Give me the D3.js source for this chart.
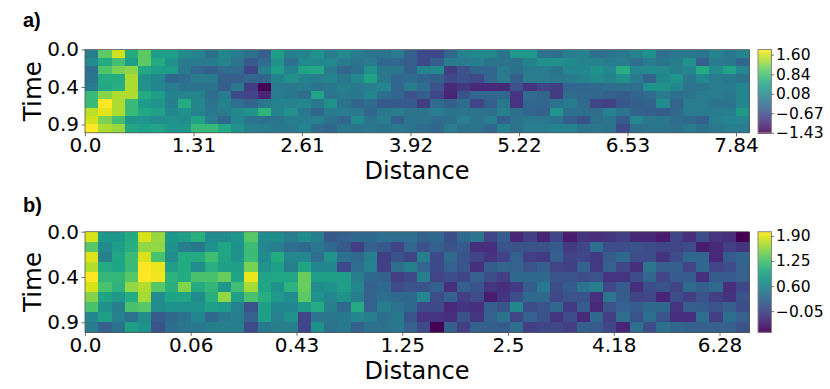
<!DOCTYPE html>
<html>
<head>
<meta charset="utf-8">
<script src="https://cdn.jsdelivr.net/npm/d3@7"></script>
<style>
  html, body { margin: 0; padding: 0; background: #fff; }
  text { font-family: "DejaVu Sans", sans-serif; fill: #000; }
</style>
</head>
<body>
<svg id="chart" width="830" height="389"></svg>
<script>
// panel a, 10 time rows x 50 distance columns
const heatA = [
  [-0.08,1.00,1.55,0.55,1.00,0.35,0.40,0.10,0.02,-0.25,0.08,-0.08,-0.22,-0.46,0.35,-0.05,0.02,0.24,-0.08,0.10,-0.08,-0.20,-0.20,-0.08,-0.46,-0.72,-0.72,-0.36,0.02,0.08,0.08,-0.20,0.28,0.28,-0.20,-0.28,-0.05,0.02,-0.28,-0.20,-0.14,0.02,0.19,-0.28,-0.14,-0.14,-0.20,0.02,-0.14,0.02],
  [0.10,0.55,0.83,0.35,1.00,0.55,0.19,-0.08,-0.08,-0.08,0.02,-0.20,-0.53,-0.30,0.19,-0.28,0.08,0.08,0.08,-0.08,-0.20,-0.08,-0.36,-0.36,-0.46,-0.72,-0.46,-0.08,-0.08,-0.05,-0.20,-0.20,-0.20,0.02,0.19,0.19,0.12,0.02,0.02,-0.08,-0.08,-0.28,-0.08,-0.20,-0.05,0.19,-0.46,-0.08,-0.14,-0.36],
  [-0.28,0.90,1.15,1.25,0.51,0.35,0.35,-0.14,-0.36,-0.46,-0.30,-0.30,-0.78,-0.05,0.35,0.02,0.44,0.51,-0.08,-0.36,-0.25,0.19,-0.14,-0.14,-0.46,0.02,0.08,-0.85,-0.62,-0.36,-0.36,-0.08,-0.25,-0.08,-0.08,-0.20,0.05,0.05,0.24,0.05,0.60,0.05,0.10,0.10,-0.05,0.05,0.55,0.10,0.45,0.05],
  [-0.20,0.55,0.55,1.40,0.19,0.08,-0.36,-0.30,-0.08,-0.08,-0.46,-0.46,-0.36,-0.40,0.02,0.19,0.02,-0.08,0.02,-0.14,0.08,0.44,-0.14,-0.36,-0.30,-0.36,-0.46,-0.72,-0.62,-0.72,-0.36,-0.08,-0.46,-0.08,-0.08,-0.14,-0.08,0.02,0.10,0.02,0.19,-0.08,-0.40,0.08,0.24,-0.14,0.08,-0.08,-0.14,-0.20],
  [-0.08,0.50,0.60,1.40,0.19,0.08,-0.08,-0.20,-0.20,-0.20,-0.46,-0.14,-0.85,-1.43,-0.08,-0.14,-0.08,-0.20,-0.14,-0.05,-0.14,-0.05,0.05,-0.40,-0.08,-0.28,-0.62,-1.05,-0.90,-1.05,-1.05,-1.05,-0.62,-0.95,-0.78,-0.85,-0.36,-0.36,-0.35,-0.30,-0.25,-0.25,0.20,0.20,0.05,-0.20,-0.20,-0.10,-0.10,0.05],
  [0.75,1.20,1.40,1.40,0.55,0.35,0.02,0.02,0.02,-0.30,-0.08,-0.72,-0.78,-1.10,-0.08,-0.14,-0.28,0.44,-0.20,-0.08,-0.14,0.08,-0.28,-0.36,-0.62,-0.46,-0.75,-1.10,-0.60,-0.36,-0.36,-0.36,-0.95,-0.30,-0.40,-0.85,-0.30,-0.35,-0.35,-0.45,-0.50,-0.40,-0.30,-0.10,-0.25,-0.20,-0.10,-0.10,-0.15,0.05],
  [0.75,1.80,1.40,0.75,0.35,0.25,-0.05,0.55,0.08,-0.20,0.02,-0.28,-0.40,-0.14,0.02,0.02,0.08,-0.14,0.19,-0.20,-0.36,-0.30,-0.53,-0.53,-0.53,-0.85,-0.30,-0.46,-0.30,-0.78,-0.46,-0.14,-0.95,-0.36,-0.36,-0.20,-0.10,-0.30,-0.75,-0.80,-0.55,-0.45,-0.40,0.10,-0.40,-0.10,-0.10,-0.20,-0.20,0.05],
  [1.48,1.65,1.40,0.75,0.51,0.40,0.08,0.19,0.02,-0.14,-0.08,0.08,0.19,0.67,0.02,0.19,-0.14,-0.36,-0.07,-0.07,-0.14,-0.36,-0.14,-0.07,-0.20,-0.20,-0.07,-0.20,-0.20,-0.20,-0.25,-0.04,-0.25,-0.36,-0.46,0.25,-0.25,-0.25,-0.30,0.00,-0.20,-0.40,-0.45,-0.50,-0.35,-0.10,-0.10,-0.10,-0.05,0.30],
  [1.58,1.15,0.83,0.25,0.25,0.12,0.19,0.12,0.44,-0.07,-0.36,0.08,-0.20,-0.23,-0.20,-0.07,-0.07,-0.04,-0.23,-0.36,0.12,-0.20,-0.07,-0.46,-0.20,-0.20,-0.30,-0.25,-0.07,-0.23,-0.07,-0.46,-0.20,-0.14,-0.14,-0.20,-0.45,-0.60,-0.25,-0.20,-0.50,0.05,-0.15,-0.15,-0.30,-0.35,-0.45,-0.05,0.05,0.05],
  [1.78,1.40,1.30,0.50,0.41,0.44,0.25,0.25,0.75,0.75,0.51,0.19,-0.04,-0.07,-0.14,-0.14,0.02,-0.30,-0.36,-0.14,-0.20,-0.14,-0.20,-0.14,-0.20,-0.30,-0.36,-0.07,-0.23,-0.20,-0.36,0.02,-0.23,-0.07,-0.07,0.00,0.00,-0.20,-0.15,-0.20,-0.70,-0.25,-0.20,-0.20,-0.25,-0.10,-0.25,-0.15,-0.05,-0.10]
]

// panel b, same shape
const heatB = [
  [1.85,0.78,0.78,1.00,1.85,1.61,0.78,0.86,1.05,0.65,0.65,0.78,1.32,0.65,0.65,0.52,0.65,0.52,0.12,0.20,0.28,0.28,0.33,0.33,0.33,0.20,0.28,0.01,0.28,0.41,-0.07,0.15,-0.31,-0.12,-0.33,-0.04,-0.39,-0.20,-0.25,-0.20,-0.12,-0.31,-0.31,-0.39,-0.07,-0.25,0.01,-0.20,-0.25,-0.60],
  [1.32,0.65,0.86,1.05,1.58,1.58,0.73,0.52,0.46,0.73,0.94,0.73,1.18,0.60,0.52,0.33,0.28,0.41,0.28,0.12,-0.12,0.20,0.12,-0.07,0.25,0.07,0.20,0.07,0.14,-0.25,-0.25,0.07,0.07,0.07,0.07,0.15,-0.17,-0.04,0.33,0.01,0.01,0.07,0.01,-0.04,-0.07,0.01,-0.39,-0.31,-0.12,-0.20],
  [1.87,0.54,0.94,1.18,1.85,1.26,0.65,1.00,1.00,1.21,0.94,0.73,1.18,0.65,1.00,0.60,0.60,0.33,0.73,0.38,0.28,0.52,-0.12,0.07,-0.07,0.52,-0.01,0.28,0.07,-0.07,-0.20,-0.07,0.20,-0.12,-0.17,0.20,-0.07,-0.04,-0.17,0.15,0.28,0.01,0.01,-0.20,0.01,0.25,0.25,-0.31,0.15,0.25],
  [1.71,1.00,0.92,1.18,2.01,1.93,0.86,1.00,0.68,1.05,0.86,0.86,1.47,0.73,0.86,0.52,0.94,0.60,0.60,-0.01,0.33,0.54,-0.12,0.33,0.52,0.25,-0.01,0.20,0.09,-0.25,0.15,0.25,0.20,0.07,0.18,-0.07,-0.12,0.20,-0.17,0.20,-0.04,-0.25,0.41,0.18,0.18,-0.07,0.28,-0.07,0.01,0.20],
  [2.01,1.13,1.13,1.32,2.01,1.96,1.08,1.00,1.26,1.26,1.40,0.92,1.93,0.92,0.94,0.94,1.40,0.86,0.86,0.86,0.52,0.28,0.20,-0.12,-0.01,0.52,-0.07,0.01,-0.04,0.20,0.01,-0.12,0.28,0.28,0.28,0.07,0.07,0.01,0.07,-0.20,-0.20,0.01,0.25,-0.07,0.15,0.15,-0.25,0.15,0.15,0.20],
  [1.85,1.26,1.08,1.58,1.71,1.32,1.05,1.53,1.00,1.13,0.78,1.21,1.66,0.94,0.73,1.08,1.40,0.65,0.73,0.86,0.60,0.20,0.28,-0.01,0.07,0.07,0.20,-0.25,0.18,0.07,-0.20,-0.25,-0.17,0.15,0.46,0.01,0.15,0.38,0.52,-0.04,0.15,-0.25,0.01,0.07,-0.07,0.28,0.18,0.28,-0.25,-0.04],
  [1.53,0.92,0.78,1.00,1.66,0.65,0.92,0.94,0.65,1.05,1.58,0.86,1.26,1.05,0.81,0.65,1.34,0.73,0.60,0.73,0.52,0.20,0.33,0.28,0.28,0.60,0.01,0.20,-0.12,0.01,-0.39,-0.20,0.01,0.28,0.28,-0.04,0.07,0.07,-0.25,0.41,0.15,-0.07,-0.04,-0.33,0.01,-0.12,0.07,-0.12,-0.20,0.07],
  [1.26,0.73,0.52,1.26,1.32,0.65,0.73,0.73,0.73,0.86,0.81,0.54,0.07,0.86,0.60,0.60,0.81,1.00,0.52,0.28,1.00,0.20,0.52,0.38,0.28,-0.01,-0.01,-0.31,-0.20,-0.25,0.18,0.07,0.60,0.01,0.07,0.28,-0.17,0.15,-0.31,0.07,0.20,0.15,0.28,0.28,-0.20,0.18,0.15,0.07,0.18,0.01],
  [0.60,0.86,0.54,0.38,0.68,0.14,0.28,0.38,0.60,0.28,0.46,0.52,0.20,0.86,0.54,0.73,-0.07,0.41,0.41,0.46,0.60,0.52,0.33,0.46,0.07,-0.20,-0.20,-0.25,0.07,-0.20,0.20,0.38,-0.07,0.20,0.07,-0.20,0.01,-0.31,0.28,-0.12,0.33,0.07,0.33,0.07,-0.25,-0.25,0.33,-0.12,0.33,0.20],
  [0.52,0.20,0.38,0.86,0.73,0.07,0.33,0.41,0.46,0.52,0.52,0.52,-0.01,0.46,0.52,0.52,-0.07,0.73,0.38,0.46,0.20,0.38,0.38,0.46,0.20,-0.01,-0.60,0.18,-0.12,0.20,0.18,0.14,0.33,-0.12,-0.04,-0.04,-0.12,0.20,0.15,-0.04,-0.33,0.38,0.01,0.33,0.25,0.20,0.20,0.18,0.20,0.07]
]

const xLabelsA = ['0.0', '1.31', '2.61', '3.92', '5.22', '6.53', '7.84']
const xLabelsB = ['0.0', '0.06', '0.43', '1.25', '2.5', '4.18', '6.28']
const xTicksA = [0, 8.17, 16.33, 24.5, 32.67, 40.83, 49]
const xTicksB = [0, 7.96, 15.92, 23.88, 31.84, 39.8, 47.76]
const yLabels = ['0.0', '0.4', '0.9']
const yTicks = [0, 4.5, 9]
const cbarTicksA = [1.60, 0.84, 0.08, -0.67, -1.43]
const cbarTicksB = [1.90, 1.25, 0.60, -0.05]
const cbarLabelsA = ['1.60', '0.84', '0.08', '\u22120.67', '\u22121.43']
const cbarLabelsB = ['1.90', '1.25', '0.60', '\u22120.05']

const svg = d3.select('#chart')
const defs = svg.append('defs')

function drawPanel(opt) {
  const x = d3.scaleLinear().domain([0, 50]).range([85, 749.3])
  const y = d3.scaleLinear().domain([0, 10]).range([opt.top, opt.bottom])
  const color = d3.scaleSequential(d3.interpolateViridis).domain(opt.extent)

  // the source image was resampled, so the cells have soft edges
  const filter = defs.append('filter')
    .attr('id', opt.id)
    .attr('filterUnits', 'userSpaceOnUse')
    .attr('x', 85).attr('y', opt.top)
    .attr('width', x(50) - 85).attr('height', opt.bottom - opt.top)
    .attr('color-interpolation-filters', 'sRGB')
  filter.append('feGaussianBlur').attr('stdDeviation', 0.55).attr('edgeMode', 'duplicate')

  const g = svg.append('g')
  const cells = opt.rows.flatMap((row, r) => row.map((v, c) => ({r, c, v})))

  g.append('g')
    .attr('filter', `url(#${opt.id})`)
    .selectAll('rect')
    .data(cells)
    .enter().append('rect')
    .attr('x', d => x(d.c))
    .attr('y', d => y(d.r))
    .attr('width', x(1) - x(0) + 0.5)
    .attr('height', y(1) - y(0) + 0.5)
    .attr('shape-rendering', 'crispEdges')
    .attr('fill', d => color(d.v))

  const xAxis = d3.axisBottom(x)
    .tickValues(opt.xTicks)
    .tickFormat((d, i) => opt.xLabels[i])
    .tickSize(3.5)
    .tickPadding(2)
  const yAxis = d3.axisLeft(y)
    .tickValues(yTicks)
    .tickFormat((d, i) => yLabels[i])
    .tickSize(3.5)
    .tickPadding(2.5)

  const gx = g.append('g').attr('transform', `translate(0, ${opt.bottom})`).call(xAxis)
  const gy = g.append('g').attr('transform', 'translate(85, 0)').call(yAxis)
  for (const a of [gx, gy]) {
    a.selectAll('text').style('font-size', '20px').attr('fill', '#000')
    a.selectAll('line').attr('stroke', '#333').attr('stroke-width', 0.7)
    a.select('.domain').remove()
  }

  g.append('rect')
    .attr('x', 85).attr('y', opt.top)
    .attr('width', x(50) - 85).attr('height', opt.bottom - opt.top)
    .attr('fill', 'none').attr('stroke', '#555').attr('stroke-width', 0.8)

  g.append('text')
    .attr('x', 417).attr('y', opt.bottom + 46.5)
    .attr('text-anchor', 'middle')
    .style('font-size', '24px')
    .text('Distance')
  g.append('text')
    .attr('transform', `translate(41, ${(opt.top + opt.bottom) / 2}) rotate(-90)`)
    .attr('text-anchor', 'middle')
    .style('font-size', '24.5px')
    .text('Time')
  g.append('text')
    .attr('x', 23).attr('y', opt.titleY)
    .style('font-family', '"Liberation Sans", sans-serif')
    .style('font-weight', 'bold')
    .style('font-size', '20px')
    .text(opt.title)

  // colour bar
  const cy = d3.scaleLinear().domain(opt.extent).range([opt.bottom, opt.top])
  const steps = d3.range(opt.bottom - opt.top)
  g.selectAll('rect.cbar')
    .data(steps)
    .enter().append('rect')
    .attr('class', 'cbar')
    .attr('x', 758)
    .attr('y', d => opt.top + d)
    .attr('width', 13.5)
    .attr('height', 1.2)
    .attr('fill', d => color(cy.invert(opt.top + d + 0.5)))
  g.append('rect')
    .attr('x', 758).attr('y', opt.top)
    .attr('width', 13.5).attr('height', opt.bottom - opt.top)
    .attr('fill', 'none').attr('stroke', '#888').attr('stroke-width', 1)

  const cAxis = d3.axisRight(cy)
    .tickValues(opt.cbarTicks)
    .tickFormat((d, i) => opt.cbarLabels[i])
    .tickSize(2.5)
    .tickPadding(2)
  const gc = g.append('g').attr('transform', 'translate(771.5, 0)').call(cAxis)
  gc.select('.domain').remove()
  gc.selectAll('text').style('font-size', '15.5px').attr('fill', '#000')
  gc.selectAll('line').attr('stroke', '#333').attr('stroke-width', 0.7)
}

drawPanel({
  id: 'softA', rows: heatA, extent: [-1.43, 1.8], top: 49.5, bottom: 132.8,
  xTicks: xTicksA, xLabels: xLabelsA,
  cbarTicks: cbarTicksA, cbarLabels: cbarLabelsA,
  title: 'a)', titleY: 27
})
drawPanel({
  id: 'softB', rows: heatB, extent: [-0.6, 2.01], top: 231.7, bottom: 332.3,
  xTicks: xTicksB, xLabels: xLabelsB,
  cbarTicks: cbarTicksB, cbarLabels: cbarLabelsB,
  title: 'b)', titleY: 212
})
</script>
</body>
</html>
